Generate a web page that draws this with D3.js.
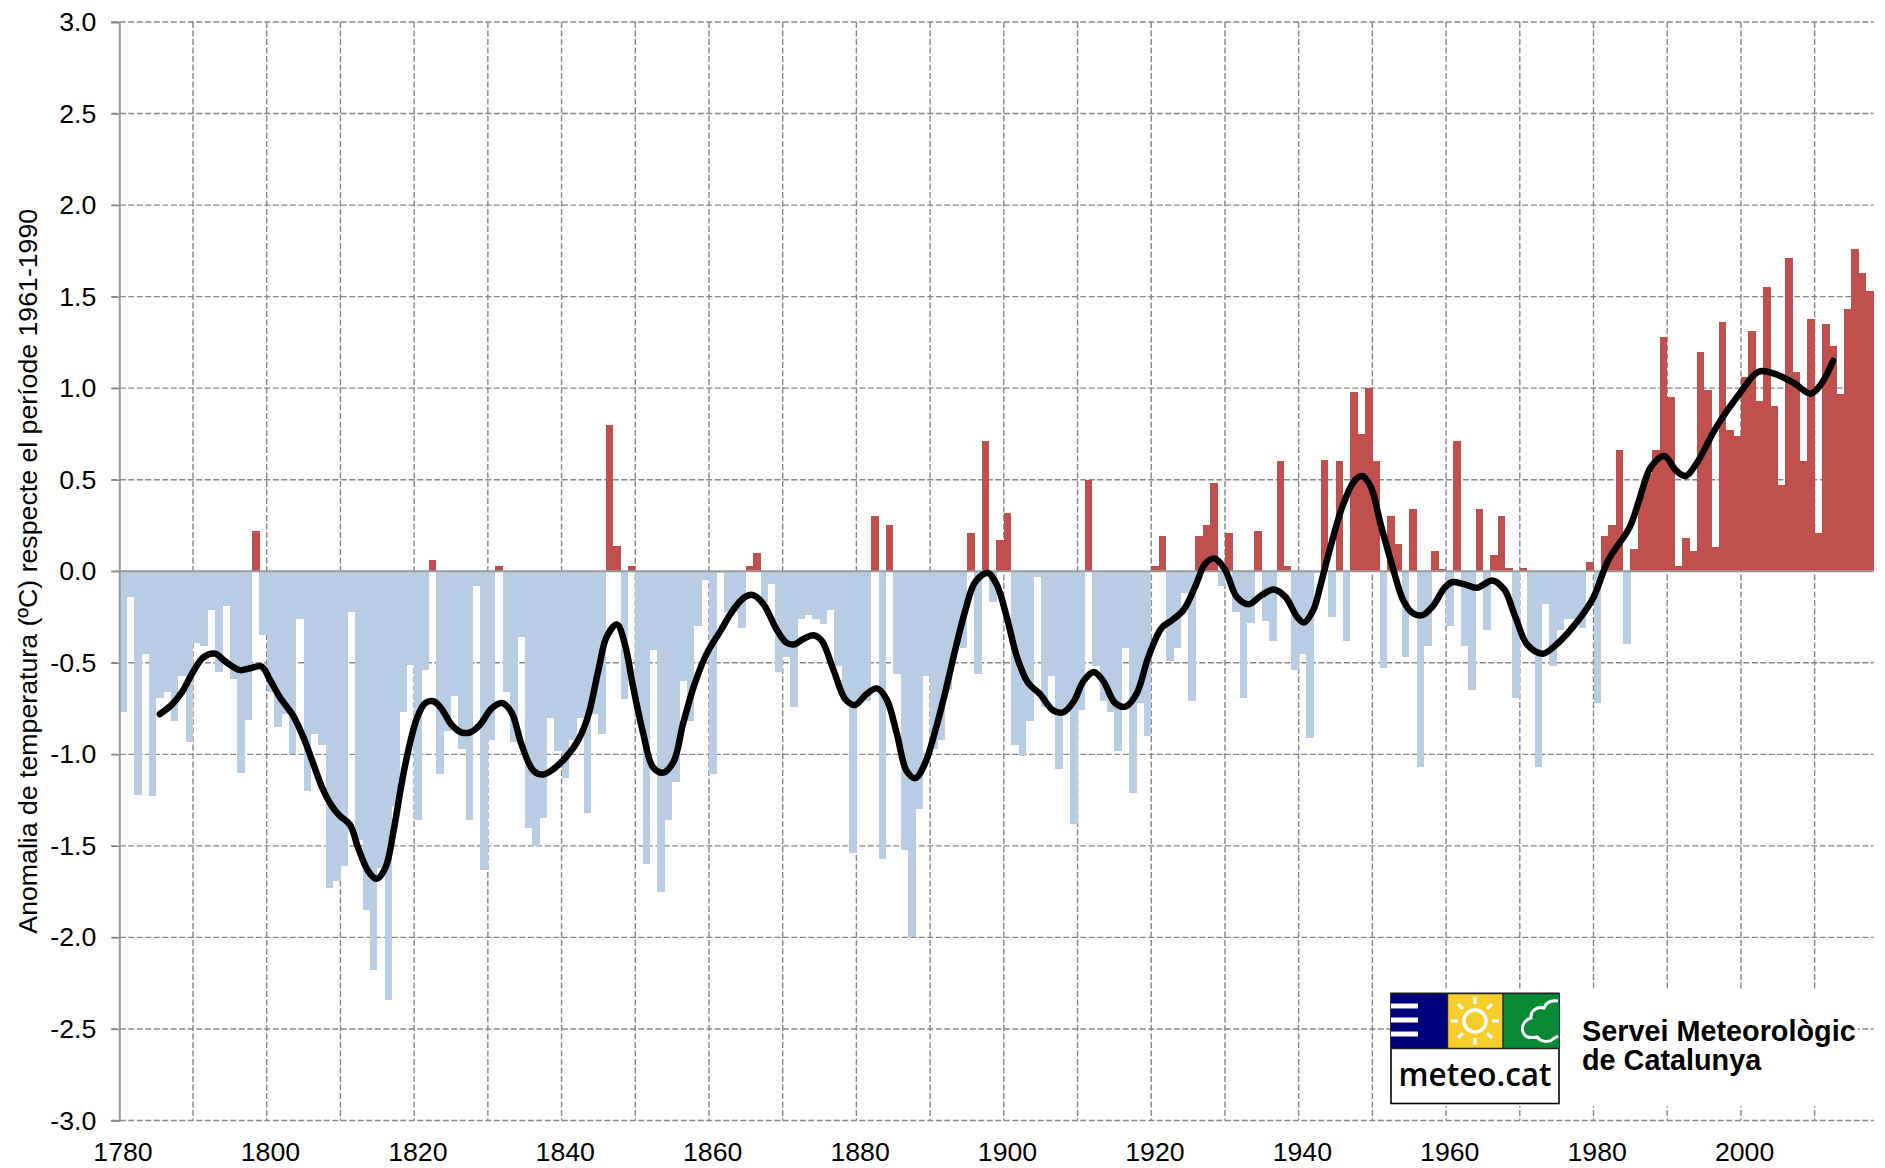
<!DOCTYPE html>
<html>
<head>
<meta charset="utf-8">
<script src="https://cdn.jsdelivr.net/npm/d3@7"></script>
<style>
  html, body { margin: 0; padding: 0; background: #fff; }
  svg { display: block; }
  text { font-family: "Liberation Sans", Arial, sans-serif; fill: #000; }
</style>
</head>
<body>
<div id="chart"></div>
<script>
// Anomalies 1780-2017, one value per year
const firstYear = 1780;
const anomalies = [
  -0.77, -0.14, -1.22, -0.45, -1.23, -0.69, -0.66, -0.82, -0.57, -0.93,
  -0.39, -0.41, -0.21, -0.55, -0.19, -0.59, -1.10, -0.81, 0.22, -0.35,
  -0.66, -0.85, -0.78, -1.00, -0.26, -1.20, -0.89, -0.95, -1.73, -1.69,
  -1.61, -0.22, -1.47, -1.85, -2.18, -1.62, -2.34, -1.28, -0.77, -0.51,
  -1.36, -0.54, 0.06, -1.11, -0.87, -0.68, -0.97, -1.36, -0.08, -1.63,
  -0.92, 0.03, -0.66, -0.93, -0.36, -1.40, -1.50, -1.35, -0.80, -0.98,
  -1.13, -0.92, -0.80, -1.32, -0.78, -0.89, 0.80, 0.14, -0.70, 0.03,
  -0.80, -1.60, -0.43, -1.75, -1.36, -1.15, -0.60, -0.82, -0.30, -0.05,
  -1.11, -0.01, -0.22, -0.22, -0.31, 0.03, 0.10, -0.17, -0.07, -0.55,
  -0.47, -0.74, -0.26, -0.24, -0.26, -0.29, -0.21, -0.52, -0.71, -1.54,
  -0.71, -0.71, 0.30, -1.57, 0.25, -0.56, -1.52, -2.00, -1.30, -0.57,
  -0.97, -0.92, -0.65, -0.41, -0.42, 0.21, -0.56, 0.71, -0.17, 0.17,
  0.32, -0.95, -1.01, -0.82, -0.03, -0.74, -0.57, -1.08, -0.77, -1.38,
  -0.76, 0.50, -0.52, -0.71, -0.77, -0.98, -0.42, -1.21, -0.72, -0.90,
  0.03, 0.19, -0.49, -0.42, -0.12, -0.71, 0.19, 0.25, 0.48, -0.08,
  0.21, -0.22, -0.69, -0.28, 0.22, -0.27, -0.38, 0.60, 0.03, -0.54,
  -0.45, -0.91, -0.01, 0.61, -0.25, 0.60, -0.38, 0.98, 0.75, 1.00,
  0.60, -0.53, 0.30, 0.15, -0.47, 0.34, -1.07, -0.41, 0.11, 0.01,
  -0.30, 0.71, -0.41, -0.65, 0.34, -0.32, 0.09, 0.30, 0.02, -0.69,
  0.02, -0.43, -1.07, -0.18, -0.52, -0.32, -0.26, -0.26, -0.31, 0.05,
  -0.72, 0.19, 0.25, 0.66, -0.40, 0.12, 0.42, 0.53, 0.66, 1.28,
  0.95, 0.03, 0.18, 0.11, 1.20, 0.99, 0.13, 1.36, 0.77, 0.74,
  1.06, 1.31, 0.93, 1.55, 0.90, 0.47, 1.71, 1.09, 0.60, 1.38,
  0.21, 1.35, 1.23, 0.97, 1.43, 1.76, 1.63, 1.53
];

// Smoothed curve, years and values
const smoothYears = [
  1785, 1786.6, 1788, 1789.5, 1790.9, 1792.5, 1793.8, 1795.9, 1797.2, 1798.8,
  1799.9, 1801.3, 1803.1, 1804.5, 1805.8, 1807, 1808.3, 1809.4, 1810.8, 1811.9,
  1813.3, 1814.4, 1815.6, 1816.7, 1817.8, 1818.7, 1819.9, 1821, 1822.1, 1823.2,
  1824.6, 1825.9, 1827.1, 1828.4, 1830, 1831.4, 1832.7, 1834.1, 1835.7,
  1837, 1838.4, 1840, 1841.8, 1843.1, 1844.5, 1845.6, 1847, 1848.1, 1849.2,
  1850.6, 1851.9, 1853.3, 1854.7, 1856, 1857.6, 1859.2, 1861, 1862.8, 1864.4,
  1865.5, 1866.9, 1868.7, 1870, 1871, 1872.3, 1873.7, 1874.8, 1876.4, 1878,
  1879.3, 1880.9, 1882.3, 1883.6, 1885, 1886.3, 1887.5, 1888.8, 1890.2, 1891.5,
  1892.9, 1894.3, 1895.6, 1897.3, 1898.5, 1899.9, 1901.3, 1902.8, 1904.4, 1906.2,
  1907.6, 1909, 1910.3, 1911.7, 1913, 1914.6, 1916, 1917.5, 1919.1, 1920.9, 1922.4,
  1923.9, 1925.5, 1926.8, 1928.1, 1929.5, 1931.1, 1932.7, 1934.5, 1936.1, 1937.7,
  1939.3, 1940.2, 1941.5, 1942.5, 1943.8, 1945.4, 1947, 1948.1, 1949.3, 1950.6,
  1952.2, 1953.7, 1955, 1956.3, 1957.7, 1959.3, 1960.3, 1961.9, 1963.7, 1965.8,
  1967.4, 1968.9, 1970.5, 1972.6, 1974.2, 1976.8, 1979.4, 1981.5, 1984.4, 1985.7,
  1987.3, 1989.1, 1990.7, 1992, 1993.5, 1996.2, 1999.3, 2001.9, 2004, 2006.6,
  2009, 2010.5, 2012
];
const smoothValues = [
  -0.78, -0.73, -0.66, -0.55, -0.47, -0.45, -0.49, -0.54, -0.53, -0.52,
  -0.59, -0.69, -0.79, -0.91, -1.05, -1.18, -1.28, -1.335, -1.385, -1.51,
  -1.64, -1.68, -1.62, -1.42, -1.16, -0.98, -0.80, -0.72, -0.71, -0.75,
  -0.84, -0.88, -0.88, -0.84, -0.75, -0.72, -0.77, -0.95, -1.09,
  -1.11, -1.08, -1.02, -0.92, -0.79, -0.54, -0.36, -0.29, -0.40, -0.63,
  -0.89, -1.07, -1.10, -1.04, -0.83, -0.61, -0.45, -0.33, -0.21, -0.14,
  -0.13, -0.18, -0.32, -0.39, -0.40, -0.37, -0.35, -0.38, -0.54, -0.70,
  -0.73, -0.67, -0.64, -0.70, -0.89, -1.09, -1.13, -1.05, -0.87, -0.67,
  -0.43, -0.21, -0.06, -0.01, -0.07, -0.25, -0.47, -0.61, -0.67, -0.76,
  -0.77, -0.71, -0.60, -0.55, -0.60, -0.72, -0.74, -0.67, -0.47, -0.31, -0.265,
  -0.21, -0.08, 0.04, 0.07, 0.01, -0.14, -0.18, -0.13, -0.10, -0.14,
  -0.25, -0.28, -0.21, -0.07, 0.13, 0.35, 0.49, 0.52, 0.46, 0.26,
  0.03, -0.16, -0.23, -0.24, -0.19, -0.09, -0.06, -0.07, -0.09, -0.05,
  -0.10, -0.25, -0.40, -0.45, -0.41, -0.30, -0.15, 0.06, 0.24, 0.39,
  0.57, 0.63, 0.55, 0.52, 0.59, 0.79, 0.97, 1.09, 1.08, 1.03,
  0.97, 1.03, 1.15
];

const yTicks = [3, 2.5, 2, 1.5, 1, 0.5, 0, -0.5, -1, -1.5, -2, -2.5, -3];
const yTitle = "Anomalia de temperatura (ºC) respecte el període 1961-1990";

const width = 1885;
const height = 1168;
const plotLeft = 119.3, plotRight = 1873.6, plotTop = 22, plotBottom = 1120.5;

const years = anomalies.map((d, i) => firstYear + i);
const lastEdge = firstYear + years.length;

const xscale = d3.scaleBand().domain(years).range([plotLeft, plotRight]).padding(0);
const xedge = d3.scaleLinear().domain([firstYear, lastEdge]).range([plotLeft, plotRight]);
const yscale = d3.scaleLinear().domain([-3, 3]).range([plotBottom, plotTop]);

const svg = d3.select("#chart").append("svg").attr("width", width).attr("height", height);

// ============================
// Grid
// ============================
const gridColor = "#868686";
const grid = svg.append("g")
  .attr("stroke", gridColor)
  .attr("stroke-width", 1.4)
  .attr("stroke-dasharray", "6,2.5");

grid.selectAll(".hgrid")
  .data(yTicks.filter(d => d !== 0))
  .join("line")
  .attr("class", "hgrid")
  .attr("x1", plotLeft - 8)
  .attr("x2", plotRight)
  .attr("y1", d => yscale(d))
  .attr("y2", d => yscale(d));

grid.selectAll(".vgrid")
  .data(d3.range(firstYear + 10, lastEdge, 10))
  .join("line")
  .attr("class", "vgrid")
  .attr("x1", d => xedge(d))
  .attr("x2", d => xedge(d))
  .attr("y1", plotTop)
  .attr("y2", plotBottom);

// ============================
// Bars
// ============================
svg.append("g")
  .attr("shape-rendering", "crispEdges")
  .selectAll("rect")
  .data(anomalies.map((v, i) => ({year: years[i], v: v})))
  .join("rect")
  .attr("x", d => xscale(d.year))
  .attr("width", xscale.bandwidth() + 0.2)
  .attr("y", d => yscale(Math.max(0, d.v)))
  .attr("height", d => Math.abs(yscale(d.v) - yscale(0)))
  .attr("fill", d => d.v >= 0 ? "#C0504D" : "#B8CCE4");

// ============================
// Axes
// ============================
const axisColor = "#9a9a9a";

// toFixed keeps the plain hyphen of the original labels
const yAxis = d3.axisLeft(yscale)
  .tickValues(yTicks)
  .tickFormat(d => d.toFixed(1))
  .tickSize(8)
  .tickPadding(15);

svg.append("g")
  .attr("transform", `translate(${plotLeft},0)`)
  .call(yAxis)
  .call(g => g.select(".domain").attr("stroke", axisColor).attr("stroke-width", 2))
  .call(g => g.selectAll(".tick line").attr("stroke", gridColor).attr("stroke-width", 1.4))
  .call(g => g.selectAll("text").attr("font-size", 26.7).attr("fill", "#000"));

const xAxis = d3.axisBottom(xscale)
  .tickValues(d3.range(firstYear, lastEdge, 20))
  .tickSize(0)
  .tickPadding(21.5);

svg.append("g")
  .attr("transform", `translate(0,${plotBottom})`)
  .call(xAxis)
  .call(g => g.select(".domain").remove())
  .call(g => g.selectAll("text").attr("font-size", 26.7).attr("fill", "#000"));

svg.append("line")
  .attr("x1", plotLeft - 8)
  .attr("x2", plotRight)
  .attr("y1", yscale(0))
  .attr("y2", yscale(0))
  .attr("stroke", axisColor)
  .attr("stroke-width", 2);

svg.append("text")
  .attr("transform", `translate(37,${yscale(0)}) rotate(-90)`)
  .attr("text-anchor", "middle")
  .attr("font-size", 26.7)
  .text(yTitle);

// ============================
// Smoothed line
// ============================
const smoothLine = d3.line()
  .curve(d3.curveCatmullRom.alpha(0.5))
  .x((d, i) => xedge(smoothYears[i] + 0.5))
  .y(d => yscale(d));

svg.append("path")
  .attr("d", smoothLine(smoothValues))
  .attr("fill", "none")
  .attr("stroke", "#000")
  .attr("stroke-width", 6.5)
  .attr("stroke-linecap", "round")
  .attr("stroke-linejoin", "round");

// ============================
// Logo
// ============================
const logo = svg.append("g");

logo.append("rect").attr("x", 1390).attr("y", 991).attr("width", 468).attr("height", 115).attr("fill", "#fff");
logo.append("rect").attr("x", 1391).attr("y", 993.5).attr("width", 168).attr("height", 110).attr("fill", "#fff").attr("stroke", "#000").attr("stroke-width", 1.6);
logo.append("rect").attr("x", 1391).attr("y", 993.5).attr("width", 56.5).attr("height", 55).attr("fill", "#00007f");
logo.append("rect").attr("x", 1447.5).attr("y", 993.5).attr("width", 55.5).attr("height", 55).attr("fill", "#f7cd2a");
logo.append("rect").attr("x", 1503).attr("y", 993.5).attr("width", 56).attr("height", 55).attr("fill", "#078a36");
logo.append("path").attr("d", "M1447.5 993.5V1048.5M1503 993.5V1048.5M1391 1048.5H1559M1391 993.5H1559").attr("stroke", "#222").attr("stroke-width", 1.4).attr("fill", "none");

logo.selectAll(".wave")
  .data([1006, 1020, 1034])
  .join("rect")
  .attr("class", "wave")
  .attr("x", 1391)
  .attr("y", d => d - 2.5)
  .attr("width", 27)
  .attr("height", 5)
  .attr("fill", "#fff");

const sunX = 1475, sunY = 1021;
logo.append("circle").attr("cx", sunX).attr("cy", sunY).attr("r", 11).attr("fill", "none").attr("stroke", "#fff").attr("stroke-width", 3.5);
d3.range(0, 360, 45).forEach(a => {
  const r = a * Math.PI / 180;
  logo.append("line")
    .attr("x1", sunX + 17 * Math.cos(r)).attr("y1", sunY + 17 * Math.sin(r))
    .attr("x2", sunX + 24 * Math.cos(r)).attr("y2", sunY + 24 * Math.sin(r))
    .attr("stroke", "#fff").attr("stroke-width", 3.2);
});

logo.append("path")
  .attr("d", "M1558 1001 C1551 1000 1546 1003 1544 1008 C1537 1006 1530 1011 1531 1018 C1524 1020 1521 1027 1523 1032 C1525 1038 1532 1038 1537 1037 C1541 1042 1549 1043 1553 1039 L1558 1036")
  .attr("fill", "none")
  .attr("stroke", "#fff")
  .attr("stroke-width", 3);

logo.append("text")
  .attr("x", 1398.5)
  .attr("y", 1086)
  .attr("font-size", 33)
  .attr("font-weight", 600)
  .attr("textLength", 153)
  .attr("lengthAdjust", "spacingAndGlyphs")
  .style("font-family", "'Open Sans', sans-serif")
  .text("meteo.cat");

logo.append("text").attr("x", 1582).attr("y", 1041).attr("font-size", 28.8).attr("font-weight", 700).text("Servei Meteorològic");
logo.append("text").attr("x", 1582).attr("y", 1070).attr("font-size", 28.8).attr("font-weight", 700).text("de Catalunya");
</script>
</body>
</html>
